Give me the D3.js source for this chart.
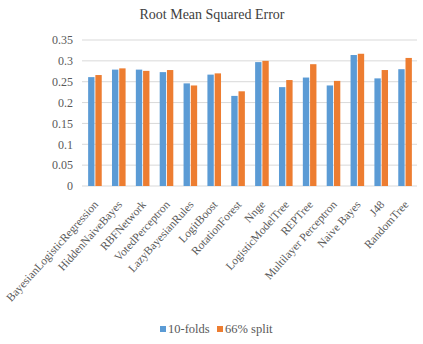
<!DOCTYPE html>
<html>
<head>
<meta charset="utf-8">
<script src="https://cdn.jsdelivr.net/npm/d3@7"></script>
<style>
  body { margin: 0; background: #fff; }
  svg text { font-family: "Liberation Serif", "DejaVu Serif", serif !important; }
</style>
</head>
<body>
<svg></svg>
<script>
// Data
const categories = ["BayesianLogisticRegression", "HiddenNaiveBayes", "RBFNetwork", "VotedPerceptron",
  "LazyBayesianRules", "LogitBoost", "RotationForest", "Nnge", "LogisticModelTree", "REPTree",
  "Multilayer Perceptron", "Naive Bayes", "J48", "RandomTree"];
const seriesNames = ["10-folds", "66% split"];
const folds10 = [0.261, 0.279, 0.279, 0.273, 0.246, 0.267, 0.216, 0.297, 0.237, 0.260, 0.241, 0.314, 0.258, 0.280];
const split66 = [0.266, 0.282, 0.276, 0.278, 0.241, 0.270, 0.227, 0.300, 0.254, 0.292, 0.252, 0.317, 0.278, 0.307];
const yTicks = [0, 0.05, 0.1, 0.15, 0.2, 0.25, 0.3, 0.35];

const colors = ["#5B9BD5", "#ED7D31"];
const svgWidth = 423, svgHeight = 344;
const margin = { top: 40, right: 6, bottom: 158, left: 83 };
const w = svgWidth - margin.left - margin.right;
const h = svgHeight - margin.top - margin.bottom;

const svg = d3.select("svg")
    .attr("width", svgWidth)
    .attr("height", svgHeight);

// Title
svg.append("text")
    .attr("x", 212)
    .attr("y", 19)
    .attr("text-anchor", "middle")
    .style("font-size", "14px")
    .attr("fill", "#404040")
    .text("Root Mean Squared Error");

const g = svg.append("g")
    .attr("transform", `translate(${margin.left},${margin.top})`);

const xScale = d3.scaleBand().domain(categories).range([0, w]);
const xInner = d3.scaleBand().domain(seriesNames)
    .range([xScale.bandwidth() / 2 - 6.8, xScale.bandwidth() / 2 + 6.8])
    .paddingInner(0.12);
const yScale = d3.scaleLinear().domain([0, 0.35]).range([h, 0]);

// Gridlines
g.selectAll(".grid")
    .data(yTicks)
    .join("line")
    .attr("class", "grid")
    .attr("x1", -1).attr("x2", w)
    .attr("y1", d => yScale(d)).attr("y2", d => yScale(d))
    .attr("stroke", "#d9d9d9")
    .attr("stroke-width", 1);

// Y axis labels
const yAxis = d3.axisLeft(yScale).tickValues(yTicks).tickSize(0).tickPadding(10)
    .tickFormat(d => d === 0 ? "0" : String(+d.toFixed(2)));
g.append("g")
    .attr("class", "axis y-axis")
    .call(yAxis)
    .call(s => s.select(".domain").remove())
    .selectAll("text")
    .style("font-size", "12px")
    .attr("fill", "#595959");

// Bars
const rows = categories.map((c, i) => ({ cat: c, vals: [folds10[i], split66[i]] }));
const groups = g.selectAll(".cat")
    .data(rows)
    .join("g")
    .attr("class", "cat")
    .attr("transform", d => `translate(${xScale(d.cat)},0)`);

groups.selectAll("rect")
    .data(d => d.vals.map((v, j) => ({ s: seriesNames[j], v: v, j: j })))
    .join("rect")
    .attr("x", d => xInner(d.s))
    .attr("width", xInner.bandwidth())
    .attr("y", d => yScale(d.v))
    .attr("height", d => h - yScale(d.v))
    .attr("fill", d => colors[d.j]);

// X axis labels
const xAxis = d3.axisBottom(xScale).tickSize(0).tickPadding(0);
g.append("g")
    .attr("class", "axis x-axis")
    .attr("transform", `translate(0,${h})`)
    .call(xAxis)
    .call(s => s.select(".domain").remove())
    .selectAll("text")
    .style("font-size", "11.5px")
    .attr("fill", "#595959")
    .attr("text-anchor", "end")
    .attr("dy", null)
    .attr("y", 0)
    .attr("transform", "translate(4,19) rotate(-48)");

// Legend
const legend = svg.append("g").attr("transform", "translate(160,331)");
const legendX = [0, 57];
seriesNames.forEach((name, i) => {
    const item = legend.append("g").attr("transform", `translate(${legendX[i]},0)`);
    item.append("rect")
        .attr("x", 0).attr("y", -5)
        .attr("width", 6).attr("height", 6)
        .attr("fill", colors[i]);
    item.append("text")
        .attr("x", 8).attr("y", 2)
        .style("font-size", "12.5px")
        .attr("fill", "#595959")
        .text(name);
});
</script>
</body>
</html>
